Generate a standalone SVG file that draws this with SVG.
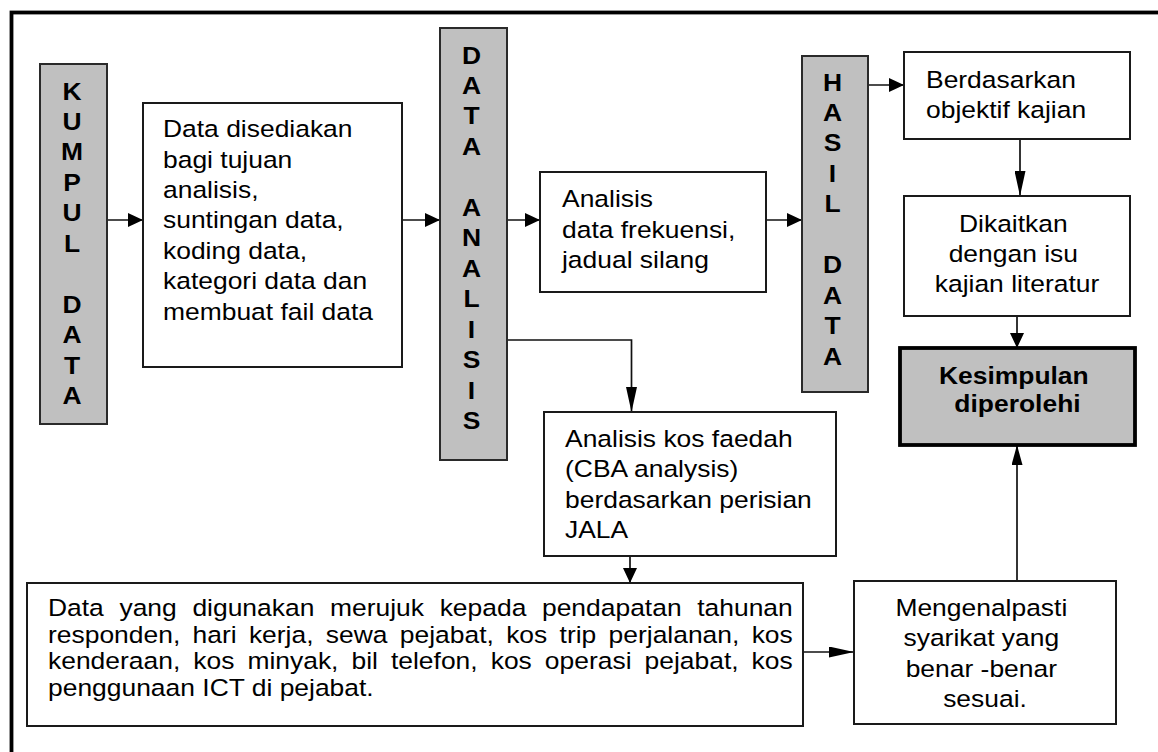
<svg xmlns="http://www.w3.org/2000/svg" width="1158" height="752" viewBox="0 0 1158 752">
  <style>
    .t { font-family: "Liberation Sans", Arial, sans-serif; font-size: 23.5px; fill: #000; }
    .b { font-weight: bold; }
    .box { fill: #fff; stroke: #1a1a1a; stroke-width: 2; }
    .bar { fill: #c0c0c0; stroke: #2a2a2a; stroke-width: 2; }
    .key { fill: #c0c0c0; stroke: #000; stroke-width: 3.8; }
    .link { fill: none; stroke: #111; stroke-width: 1.7; }
    .short { marker-end: url(#headShort); }
    .long { marker-end: url(#headLong); }
    .up { marker-end: url(#headUp); }
  </style>
  <defs>
    <marker id="headShort" markerUnits="userSpaceOnUse" markerWidth="15" markerHeight="14" refX="15" refY="7" orient="auto">
      <path d="M0,0 L15,7 L0,14 Z" fill="#000"/>
    </marker>
    <marker id="headLong" markerUnits="userSpaceOnUse" markerWidth="25" markerHeight="11" refX="25" refY="5.5" orient="auto">
      <path d="M0,0 L25,5.5 L0,11 Z" fill="#000"/>
    </marker>
    <marker id="headUp" markerUnits="userSpaceOnUse" markerWidth="20" markerHeight="11" refX="20" refY="5.5" orient="auto">
      <path d="M0,0 L20,5.5 L0,11 Z" fill="#000"/>
    </marker>
  </defs>

  <rect width="1158" height="752" fill="#fff"/>
  <!-- page frame, open towards the right and bottom edges -->
  <rect x="11.5" y="12.5" width="1170" height="770" fill="none" stroke="#000" stroke-width="3.8"/>

  <g id="connectors">
    <path class="link short" d="M107,220 H143"/>
    <path class="link short" d="M402,220 H440"/>
    <path class="link short" d="M507,220 H540"/>
    <path class="link short" d="M766,220 H802"/>
    <path class="link long" d="M507,340 H631.5 V412"/>
    <path class="link short" d="M868,85 H904"/>
    <path class="link long" d="M1020,139 V196"/>
    <path class="link short" d="M1017,316 V348"/>
    <path class="link short" d="M630,556 V583"/>
    <path class="link long" d="M803,652 H854"/>
    <path class="link up" d="M1017,581 V445"/>
  </g>

  <g id="kumpul-data">
    <rect class="bar" x="40" y="64" width="67" height="360"/>
    <text class="t b" text-anchor="middle" transform="translate(72 99.5) scale(1.125 1)">
      <tspan x="0" dy="0">K</tspan><tspan x="0" dy="30.5">U</tspan><tspan x="0" dy="30.5">M</tspan><tspan x="0" dy="30.5">P</tspan><tspan x="0" dy="30.5">U</tspan><tspan x="0" dy="30.5">L</tspan><tspan x="0" dy="61">D</tspan><tspan x="0" dy="30.5">A</tspan><tspan x="0" dy="30.5">T</tspan><tspan x="0" dy="30.5">A</tspan>
    </text>
  </g>

  <g id="penyediaan-data">
    <rect class="box" x="143" y="103" width="259" height="264"/>
    <text class="t" transform="translate(163 137.3) scale(1.125 1)">
      <tspan x="0" dy="0">Data disediakan</tspan>
      <tspan x="0" dy="30.4">bagi tujuan</tspan>
      <tspan x="0" dy="30.4">analisis,</tspan>
      <tspan x="0" dy="30.4">suntingan data,</tspan>
      <tspan x="0" dy="30.4">koding data,</tspan>
      <tspan x="0" dy="30.4">kategori data dan</tspan>
      <tspan x="0" dy="30.4">membuat fail data</tspan>
    </text>
  </g>

  <g id="data-analisis">
    <rect class="bar" x="440" y="28" width="67" height="432"/>
    <text class="t b" text-anchor="middle" transform="translate(471.5 63.5) scale(1.125 1)">
      <tspan x="0" dy="0">D</tspan><tspan x="0" dy="30.5">A</tspan><tspan x="0" dy="30.5">T</tspan><tspan x="0" dy="30.5">A</tspan><tspan x="0" dy="61">A</tspan><tspan x="0" dy="30.5">N</tspan><tspan x="0" dy="30.5">A</tspan><tspan x="0" dy="30.5">L</tspan><tspan x="0" dy="30.5">I</tspan><tspan x="0" dy="30.5">S</tspan><tspan x="0" dy="30.5">I</tspan><tspan x="0" dy="30.5">S</tspan>
    </text>
  </g>

  <g id="analisis-frekuensi">
    <rect class="box" x="540" y="172" width="226" height="120"/>
    <text class="t" transform="translate(562 207.3) scale(1.125 1)">
      <tspan x="0" dy="0">Analisis</tspan>
      <tspan x="0" dy="30.4">data frekuensi,</tspan>
      <tspan x="0" dy="30.4">jadual silang</tspan>
    </text>
  </g>

  <g id="analisis-kos-faedah">
    <rect class="box" x="544" y="412" width="292" height="144"/>
    <text class="t" transform="translate(565 446.7) scale(1.125 1)">
      <tspan x="0" dy="0">Analisis kos faedah</tspan>
      <tspan x="0" dy="30.5">(CBA analysis)</tspan>
      <tspan x="0" dy="30.5">berdasarkan perisian</tspan>
      <tspan x="0" dy="30.5">JALA</tspan>
    </text>
  </g>

  <g id="hasil-data">
    <rect class="bar" x="802" y="56" width="66" height="336"/>
    <text class="t b" text-anchor="middle" transform="translate(832.5 90.5) scale(1.125 1)">
      <tspan x="0" dy="0">H</tspan><tspan x="0" dy="30.5">A</tspan><tspan x="0" dy="30.5">S</tspan><tspan x="0" dy="30.5">I</tspan><tspan x="0" dy="30.5">L</tspan><tspan x="0" dy="61">D</tspan><tspan x="0" dy="30.5">A</tspan><tspan x="0" dy="30.5">T</tspan><tspan x="0" dy="30.5">A</tspan>
    </text>
  </g>

  <g id="objektif-kajian">
    <rect class="box" x="904" y="52" width="226" height="87"/>
    <text class="t" transform="translate(926 88.3) scale(1.125 1)">
      <tspan x="0" dy="0">Berdasarkan</tspan>
      <tspan x="0" dy="30">objektif kajian</tspan>
    </text>
  </g>

  <g id="kajian-literatur">
    <rect class="box" x="904" y="196" width="226" height="120"/>
    <text class="t" text-anchor="middle" transform="translate(1017 232.3) scale(1.125 1)">
      <tspan x="0" dy="0">Dikaitkan</tspan>
      <tspan x="0" dy="29.7">dengan isu</tspan>
      <tspan x="0" dy="29.7">kajian literatur</tspan>
    </text>
  </g>

  <g id="kesimpulan">
    <rect class="key" x="900" y="348" width="235" height="97"/>
    <text class="t b" text-anchor="middle" transform="translate(1017.5 384.3) scale(1.125 1)">
      <tspan x="0" dy="0">Kesimpulan</tspan>
      <tspan x="0" dy="27.5">diperolehi</tspan>
    </text>
  </g>

  <g id="data-kos">
    <rect class="box" x="27" y="583" width="776" height="143"/>
    <text class="t" transform="translate(48 616) scale(1.125 1)" style="word-spacing:7.38px">Data yang digunakan merujuk kepada pendapatan tahunan</text>
    <text class="t" transform="translate(48 642.5) scale(1.125 1)" style="word-spacing:4.41px">responden, hari kerja, sewa pejabat, kos trip perjalanan, kos</text>
    <text class="t" transform="translate(48 669) scale(1.125 1)" style="word-spacing:5.06px">kenderaan, kos minyak, bil telefon, kos operasi pejabat, kos</text>
    <text class="t" transform="translate(48 695.5) scale(1.125 1)">penggunaan ICT di pejabat.</text>
  </g>

  <g id="syarikat-sesuai">
    <rect class="box" x="854" y="581" width="262" height="143"/>
    <text class="t" text-anchor="middle" transform="translate(985 616) scale(1.125 1)">
      <tspan x="0" dy="0">Mengenalpasti</tspan>
      <tspan x="0" dy="30.3">syarikat yang</tspan>
      <tspan x="0" dy="30.3">benar -benar</tspan>
      <tspan x="0" dy="30.3">sesuai.</tspan>
    </text>
  </g>
</svg>
